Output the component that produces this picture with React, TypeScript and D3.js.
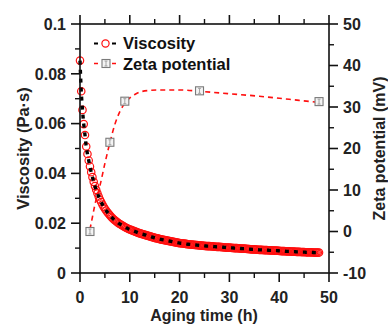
import React from "react";
import * as d3 from "d3";

// Viscosity measurements (Pa·s) vs aging time (h), sampled every 0.25 h
const viscTime = [
  0, 0.25, 0.5, 0.75, 1, 1.25, 1.5, 1.75, 2, 2.25, 2.5, 2.75, 3, 3.25, 3.5, 3.75, 4,
  4.25, 4.5, 4.75, 5, 5.25, 5.5, 5.75, 6, 6.25, 6.5, 6.75, 7, 7.25, 7.5, 7.75, 8,
  8.25, 8.5, 8.75, 9, 9.25, 9.5, 9.75, 10, 10.25, 10.5, 10.75, 11, 11.25, 11.5, 11.75, 12,
  12.25, 12.5, 12.75, 13, 13.25, 13.5, 13.75, 14, 14.25, 14.5, 14.75, 15, 15.25, 15.5, 15.75, 16,
  16.25, 16.5, 16.75, 17, 17.25, 17.5, 17.75, 18, 18.25, 18.5, 18.75, 19, 19.25, 19.5, 19.75, 20,
  20.25, 20.5, 20.75, 21, 21.25, 21.5, 21.75, 22, 22.25, 22.5, 22.75, 23, 23.25, 23.5, 23.75, 24,
  24.25, 24.5, 24.75, 25, 25.25, 25.5, 25.75, 26, 26.25, 26.5, 26.75, 27, 27.25, 27.5, 27.75, 28,
  28.25, 28.5, 28.75, 29, 29.25, 29.5, 29.75, 30, 30.25, 30.5, 30.75, 31, 31.25, 31.5, 31.75, 32,
  32.25, 32.5, 32.75, 33, 33.25, 33.5, 33.75, 34, 34.25, 34.5, 34.75, 35, 35.25, 35.5, 35.75, 36,
  36.25, 36.5, 36.75, 37, 37.25, 37.5, 37.75, 38, 38.25, 38.5, 38.75, 39, 39.25, 39.5, 39.75, 40,
  40.25, 40.5, 40.75, 41, 41.25, 41.5, 41.75, 42, 42.25, 42.5, 42.75, 43, 43.25, 43.5, 43.75, 44,
  44.25, 44.5, 44.75, 45, 45.25, 45.5, 45.75, 46, 46.25, 46.5, 46.75, 47, 47.25, 47.5, 47.75, 48,
];
const viscValue = [
  0.0853, 0.073, 0.0655, 0.0598, 0.0554, 0.0508, 0.0478, 0.0452, 0.0428, 0.0405, 0.0385, 0.0366, 0.0349, 0.0334, 0.032, 0.0307, 0.0295,
  0.0285, 0.0275, 0.0266, 0.0258, 0.0251, 0.0244, 0.0238, 0.0232, 0.0226, 0.0221, 0.0216, 0.0212, 0.0208, 0.0204, 0.02, 0.0197,
  0.0194, 0.0191, 0.0188, 0.0185, 0.0182, 0.018, 0.0177, 0.0175, 0.0173, 0.0171, 0.0169, 0.0167, 0.0165, 0.0163, 0.0161, 0.0159,
  0.0158, 0.0156, 0.0155, 0.0153, 0.0152, 0.015, 0.0149, 0.0147, 0.0146, 0.0144, 0.0143, 0.0141, 0.014, 0.0139, 0.0138, 0.0136,
  0.0135, 0.0134, 0.0133, 0.0132, 0.0131, 0.013, 0.0129, 0.0128, 0.0127, 0.0126, 0.0125, 0.0124, 0.0123, 0.0122, 0.0121, 0.012,
  0.01195, 0.0119, 0.01185, 0.0118, 0.0117, 0.0116, 0.01155, 0.0115, 0.01145, 0.0114, 0.01135, 0.0113, 0.01125, 0.0112, 0.01115, 0.0111,
  0.01105, 0.011, 0.01095, 0.0109, 0.01085, 0.0108, 0.0108, 0.0108, 0.01075, 0.0107, 0.01065, 0.0106, 0.01055, 0.0105, 0.0105, 0.0105,
  0.01045, 0.0104, 0.01035, 0.0103, 0.01025, 0.0102, 0.0102, 0.0102, 0.01015, 0.0101, 0.01005, 0.01, 0.01, 0.01, 0.00995, 0.0099,
  0.00985, 0.0098, 0.0098, 0.0098, 0.00975, 0.0097, 0.00965, 0.0096, 0.00955, 0.0095, 0.0095, 0.0095, 0.00945, 0.0094, 0.00935, 0.0093,
  0.0093, 0.0093, 0.00925, 0.0092, 0.0092, 0.0092, 0.00915, 0.0091, 0.0091, 0.0091, 0.00905, 0.009, 0.009, 0.009, 0.00895, 0.0089,
  0.00885, 0.0088, 0.0088, 0.0088, 0.00875, 0.0087, 0.0087, 0.0087, 0.00865, 0.0086, 0.0086, 0.0086, 0.00855, 0.0085, 0.0085, 0.0085,
  0.00845, 0.0084, 0.0084, 0.0084, 0.00835, 0.0083, 0.0083, 0.0083, 0.0083, 0.0083, 0.00825, 0.0082, 0.0082, 0.0082, 0.0082, 0.0082,
];

// Zeta potential measurements (mV)
const zetaTime = [2, 6, 9, 24, 48];
const zetaValue = [0.0, 21.5, 31.4, 33.9, 31.3];

// Zeta potential fitted trend (mV)
const zetaFitTime = [2, 2.5, 3, 4, 5, 6, 7, 8, 9, 10, 11, 12, 14, 16, 20, 24, 28, 32, 36, 40, 44, 48];
const zetaFitValue = [0.5, 3.5, 6.5, 11, 16.4, 21.4, 25.8, 28.9, 30.9, 32.2, 33, 33.6, 34, 34.1, 34.1, 33.8, 33.4, 33, 32.6, 32.1, 31.6, 31.1];

const xTicks = [0, 10, 20, 30, 40, 50];
const xMinor = [5, 15, 25, 35, 45];
const yLeftTicks = [0, 0.02, 0.04, 0.06, 0.08, 0.1];
const yLeftLabels = ["0", "0.02", "0.04", "0.06", "0.08", "0.1"];
const yLeftMinor = [0.01, 0.03, 0.05, 0.07, 0.09];
const yRightTicks = [-10, 0, 10, 20, 30, 40, 50];
const yRightMinor = [-5, 5, 15, 25, 35, 45];

const legendLabels = ["Viscosity", "Zeta potential"];
const xTitle = "Aging time (h)";
const yLeftTitle = "Viscosity (Pa·s)";
const yRightTitle = "Zeta potential (mV)";

const RED = "#ff1010";
const FONT = "'Liberation Sans', Arial, sans-serif";

export default function App() {
  const left = 80, right = 329, top = 24, bottom = 273;
  const x = d3.scaleLinear().domain([0, 50]).range([left, right]);
  const yL = d3.scaleLinear().domain([0, 0.1]).range([bottom, top]);
  const yR = d3.scaleLinear().domain([-10, 50]).range([bottom, top]);

  const visc = viscTime.map((t, i) => [t, viscValue[i]] as [number, number]);
  const zeta = zetaTime.map((t, i) => [t, zetaValue[i]] as [number, number]);
  const zetaFit = zetaFitTime.map((t, i) => [t, zetaFitValue[i]] as [number, number]);

  const viscLine = d3
    .line<[number, number]>()
    .x((d) => x(d[0]))
    .y((d) => yL(d[1]))
    .curve(d3.curveMonotoneX);
  const zetaLine = d3
    .line<[number, number]>()
    .x((d) => x(d[0]))
    .y((d) => yR(d[1]))
    .curve(d3.curveMonotoneX);

  const maj = 9, min = 5;
  const axisStroke = "#111";

  const square = (cx: number, cy: number, key: string | number) => (
    <g key={key}>
      <rect x={cx - 4} y={cy - 4} width={8} height={8} fill="#f4f4f4" stroke="#7a7a7a" strokeWidth={1.1} />
      <line x1={cx} x2={cx} y1={cy - 2.5} y2={cy + 2.5} stroke="#9a9a9a" strokeWidth={0.9} />
      <line x1={cx - 1.5} x2={cx + 1.5} y1={cy - 2.5} y2={cy - 2.5} stroke="#9a9a9a" strokeWidth={0.9} />
      <line x1={cx - 1.5} x2={cx + 1.5} y1={cy + 2.5} y2={cy + 2.5} stroke="#9a9a9a" strokeWidth={0.9} />
    </g>
  );

  return (
    <svg
      width={388}
      height={324}
      style={{ position: "absolute", left: 0, top: 0, background: "#fff" }}
      fontFamily={FONT}
    >
      <rect x={0} y={0} width={388} height={324} fill="#fff" />

      {/* Viscosity circles */}
      {visc.map((d, i) => (
        <circle key={"c" + i} cx={x(d[0])} cy={yL(d[1])} r={3.7} fill="none" stroke={RED} strokeWidth={1.2} />
      ))}
      {/* Viscosity fit (black dashed) */}
      <path d={viscLine(visc) || ""} fill="none" stroke="#000" strokeWidth={3.4} strokeDasharray="4 5" />

      {/* Zeta fit */}
      <path d={zetaLine(zetaFit) || ""} fill="none" stroke={RED} strokeWidth={1.6} strokeDasharray="5 4" />
      {zeta.map((d, i) => square(x(d[0]), yR(d[1]), "s" + i))}

      {/* Frame */}
      <rect x={left} y={top} width={right - left} height={bottom - top} fill="none" stroke={axisStroke} strokeWidth={1.6} />

      {/* Bottom & top ticks */}
      {xTicks.map((t) => (
        <g key={"xt" + t}>
          <line x1={x(t)} x2={x(t)} y1={bottom} y2={bottom + maj} stroke={axisStroke} strokeWidth={1.6} />
          <line x1={x(t)} x2={x(t)} y1={top} y2={top - maj} stroke={axisStroke} strokeWidth={1.6} />
          <text x={x(t)} y={303} textAnchor="middle" fontSize={16} fontWeight="bold" fill="#222">
            {t}
          </text>
        </g>
      ))}
      {xMinor.map((t) => (
        <g key={"xm" + t}>
          <line x1={x(t)} x2={x(t)} y1={bottom} y2={bottom + min} stroke={axisStroke} strokeWidth={1.4} />
          <line x1={x(t)} x2={x(t)} y1={top} y2={top - min} stroke={axisStroke} strokeWidth={1.4} />
        </g>
      ))}

      {/* Left ticks */}
      {yLeftTicks.map((v, i) => (
        <g key={"yl" + i}>
          <line x1={left - maj} x2={left} y1={yL(v)} y2={yL(v)} stroke={axisStroke} strokeWidth={1.6} />
          <text x={66} y={yL(v)} dy="0.36em" textAnchor="end" fontSize={16} fontWeight="bold" fill="#222">
            {yLeftLabels[i]}
          </text>
        </g>
      ))}
      {yLeftMinor.map((v, i) => (
        <line key={"ylm" + i} x1={left - min} x2={left} y1={yL(v)} y2={yL(v)} stroke={axisStroke} strokeWidth={1.4} />
      ))}

      {/* Right ticks */}
      {yRightTicks.map((v) => (
        <g key={"yr" + v}>
          <line x1={right} x2={right + maj} y1={yR(v)} y2={yR(v)} stroke={axisStroke} strokeWidth={1.6} />
          <text x={343} y={yR(v)} dy="0.36em" textAnchor="start" fontSize={16} fontWeight="bold" fill="#222">
            {v}
          </text>
        </g>
      ))}
      {yRightMinor.map((v) => (
        <line key={"yrm" + v} x1={right} x2={right + min} y1={yR(v)} y2={yR(v)} stroke={axisStroke} strokeWidth={1.4} />
      ))}

      {/* Axis titles */}
      <text x={204} y={321} textAnchor="middle" fontSize={16} fontWeight="bold" fill="#222">
        {xTitle}
      </text>
      <text
        transform={`translate(29,148.5) rotate(-90)`}
        textAnchor="middle"
        fontSize={16.5}
        fontWeight="bold"
        fill="#222"
      >
        {yLeftTitle}
      </text>
      <text
        transform={`translate(385,148.5) rotate(-90)`}
        textAnchor="middle"
        fontSize={16}
        fontWeight="bold"
        fill="#222"
      >
        {yRightTitle}
      </text>

      {/* Legend */}
      <g>
        <line x1={94} x2={117} y1={43.5} y2={43.5} stroke="#000" strokeWidth={1.8} strokeDasharray="4 5" />
        <circle cx={105.5} cy={43.5} r={3.6} fill="#fff" stroke={RED} strokeWidth={1.2} />
        <text x={123} y={49} fontSize={16.5} fontWeight="bold" fill="#111">
          {legendLabels[0]}
        </text>
        <line x1={94} x2={117} y1={63.5} y2={63.5} stroke={RED} strokeWidth={1.6} strokeDasharray="4 5" />
        {square(106, 63.5, "leg")}
        <text x={123} y={69.5} fontSize={16.5} fontWeight="bold" fill="#111">
          {legendLabels[1]}
        </text>
      </g>
    </svg>
  );
}
